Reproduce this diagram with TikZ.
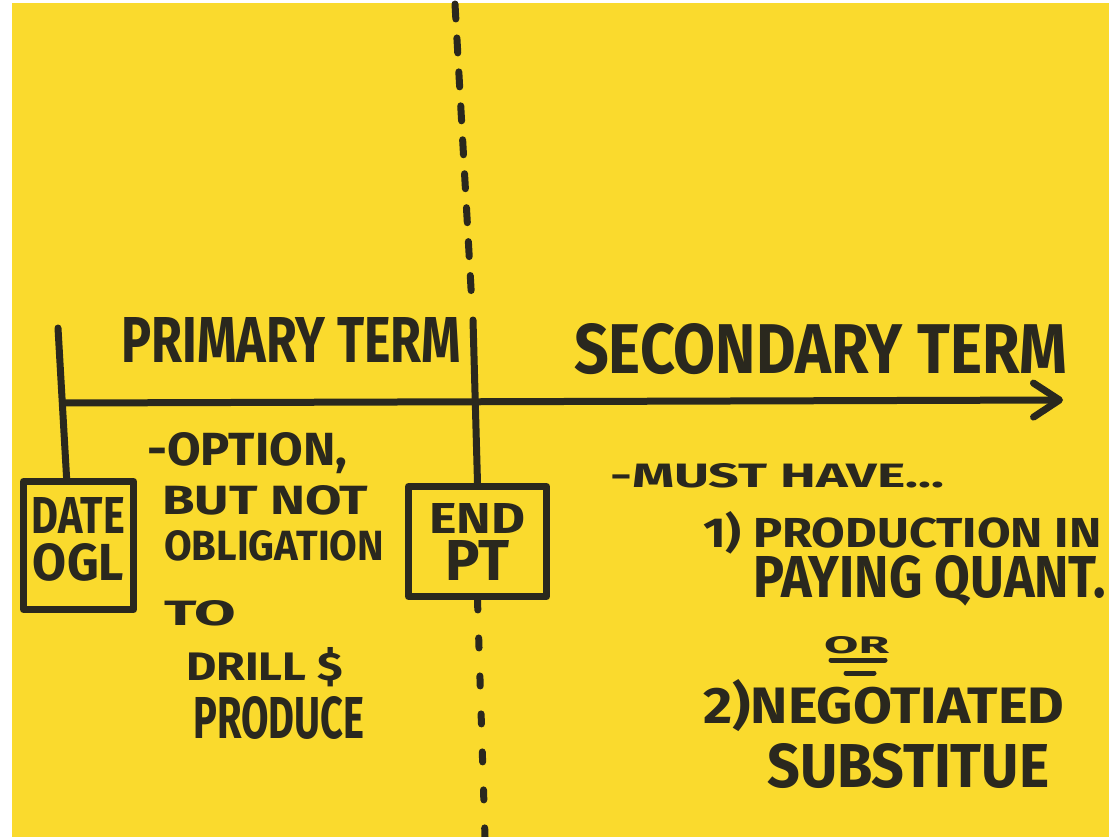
\documentclass[tikz,border=0pt]{standalone}
\usepackage{graphicx}
\usepackage{fontspec}
\setmainfont{Fira Sans}
\usetikzlibrary{arrows.meta}
\definecolor{paper}{RGB}{250,218,45}
\definecolor{ink}{RGB}{42,40,30}
% squeeze one line of marker lettering into a given width and cap height
\newcommand{\scrawl}[3]{\resizebox{#1pt}{#2pt}{#3}}

\begin{document}
\begin{tikzpicture}[x=1pt,y=-1pt,>={Straight Barb[length=26pt,width=34pt,round]},
	marker/.style={draw=ink,line width=7pt,line cap=round,line join=round},
	note/.style={text=ink,inner sep=0pt,anchor=base west,font=\bfseries},
	stub/.style={marker,rectangle,inner sep=0pt,text=ink,align=center,font=\bfseries\fontsize{20}{47}\selectfont}]
	\useasboundingbox (0,0) rectangle (1109,837);
	\fill[white] (0,0) rectangle (1109,837);
	\fill[paper] (12,3) rectangle (1109,837);
	% the two boxes on the time line
	\node[stub,minimum width=110pt,minimum height=128pt,text depth=14pt] (date) at (78.5,545.5) {\scrawl{93}{36}{DATE}\\\scrawl{91}{37}{OGL}};
	\node[stub,minimum width=138pt,minimum height=110pt] (end) at (477.5,541.5) {\scrawl{96}{30}{END}\\\scrawl{64}{40}{PT}};
	% time line and ticks
	\coordinate (start) at (64,403);
	\coordinate (tip) at (1063,400);
	\coordinate (tick) at (58,328);
	\coordinate (cut) at (473,320);
	\coordinate (top) at (455,4);
	\coordinate (bottom) at (485,837);
	\draw[marker,->] (start) -- (tip);
	\draw[marker] (tick) -- (date.100);
	\draw[marker] (cut) -- (end.north);
	\draw[marker,dash pattern=on 15pt off 19pt] (top) -- (472,306);
	\draw[marker,dash pattern=on 10pt off 28pt] (end.south) -- (bottom);
	% headings
	\node[note] (primary) at (121,362) {\scrawl{340}{45}{PRIMARY TERM}};
	\node[note] (secondary) at (574,373) {\scrawl{493}{50}{SECONDARY TERM}};
	% primary term notes
	\node[note] (opt) at (147,465) {\scrawl{200}{33}{-OPTION,}};
	\node[note] (but) at (162,514) {\scrawl{206}{29}{BUT NOT}};
	\node[note] (oblig) at (164,560) {\scrawl{220}{30}{OBLIGATION}};
	\node[note] (to) at (164,625) {\scrawl{72}{25}{TO}};
	\node[note] (drill) at (186,680) {\scrawl{157}{33}{DRILL \$}};
	\node[note] (produce) at (193,738) {\scrawl{171}{42}{PRODUCE}};
	% secondary term notes
	\node[note] (must) at (610,487) {\scrawl{334}{24}{-MUST HAVE...}};
	\node[note] (prod) at (703,547) {\scrawl{398}{36}{1) PRODUCTION IN}};
	\node[note] (paying) at (753,597) {\scrawl{353}{42}{PAYING QUANT.}};
	\node[note] (or) at (824,653) {\scrawl{65}{17}{OR}};
	\draw[marker,line width=5pt] (831,660) -- (885,660) (846,673) -- (874,673);
	\node[note] (nego) at (703,723) {\scrawl{361}{44}{2)NEGOTIATED}};
	\node[note] (subst) at (767,787) {\scrawl{282}{44}{SUBSTITUE}};
\end{tikzpicture}
\end{document}
